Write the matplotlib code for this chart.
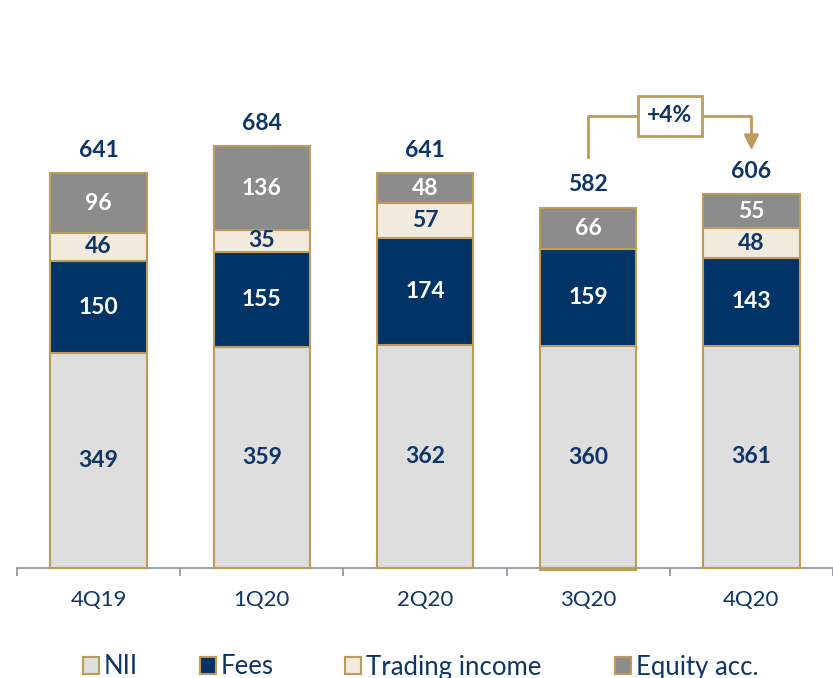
import matplotlib
matplotlib.use("Agg")
import matplotlib.pyplot as plt
from matplotlib.patches import Patch
import numpy as np

plt.rcParams['font.family'] = ['Lato', 'DejaVu Sans']

categories = ["4Q19", "1Q20", "2Q20", "3Q20", "4Q20"]
nii = [349, 359, 362, 360, 361]
fees = [150, 155, 174, 159, 143]
trading = [46, 35, 57, -3, 48]
equity = [96, 136, 48, 66, 55]
totals = [641, 684, 641, 582, 606]
growth_label = "+4%"
series_names = ["NII", "Fees", "Trading income", "Equity acc."]

c_nii = "#DEDEDE"
c_fees = "#003366"
c_trad = "#F2EADC"
c_eq = "#8C8C8C"
c_edge = "#BF9B5A"
c_text = "#0F3466"

fig = plt.figure(figsize=(8.33, 6.78), dpi=100)
# axes: left px 17 -> right px 833 ; bottom px 600 -> top px 0
ax = fig.add_axes([17/833, 78/678, 816/833, 600/678])
scale = 0.6155  # px per unit
ax.set_xlim(-0.5, (833 - 99) / 164)
ax.set_ylim(-32/scale, 568/scale)

x = np.arange(len(categories))
w = 0.59
nii_a = np.array(nii); fees_a = np.array(fees); tr_a = np.array(trading); eq_a = np.array(equity)
tr_pos = np.where(tr_a > 0, tr_a, 0)
tr_neg = np.where(tr_a < 0, tr_a, 0)

kw = dict(width=w, edgecolor=c_edge, linewidth=1.5, zorder=3)
ax.bar(x, nii_a, color=c_nii, **kw)
ax.bar(x, fees_a, bottom=nii_a, color=c_fees, **kw)
b_tr = nii_a + fees_a
ax.bar(x, tr_pos, bottom=b_tr, color=c_trad, **kw)
ax.bar(x, tr_neg, color=c_trad, **kw)
b_eq = b_tr + tr_pos
ax.bar(x, eq_a, bottom=b_eq, color=c_eq, **kw)

fs = 16.5
for i in range(len(x)):
    ax.text(x[i], nii_a[i]/2, str(nii[i]), ha='center', va='center', fontsize=fs,
            fontweight='bold', color=c_text, zorder=5)
    ax.text(x[i], nii_a[i] + fees_a[i]/2, str(fees[i]), ha='center', va='center', fontsize=fs,
            fontweight='bold', color='white', zorder=5)
    if tr_a[i] > 0:
        ax.text(x[i], b_tr[i] + tr_a[i]/2, str(trading[i]), ha='center', va='center', fontsize=fs,
                fontweight='bold', color=c_text, zorder=5)
    ax.text(x[i], b_eq[i] + eq_a[i]/2, str(equity[i]), ha='center', va='center', fontsize=fs,
            fontweight='bold', color='white', zorder=5)
    top = b_eq[i] + eq_a[i]
    ax.annotate(str(totals[i]), (x[i], top), xytext=(0, 9), textcoords='offset points',
                ha='center', va='bottom', fontsize=fs, fontweight='bold', color=c_text)

# axis
for s in ['top', 'right', 'left']:
    ax.spines[s].set_visible(False)
ax.spines['bottom'].set_position(('data', 0))
ax.spines['bottom'].set_color('#8E8E9A')
ax.spines['bottom'].set_linewidth(1.2)
ax.spines['bottom'].set_zorder(2)
ax.set_yticks([])
ax.set_xticks(np.arange(-0.5, len(categories), 1.0))
ax.set_xticklabels([])
ax.tick_params(axis='x', which='major', length=6, width=1.2, color='#8E8E9A', direction='out')
ax.set_xticks(x, minor=True)
ax.set_xticklabels(categories, minor=True, fontsize=16, color=c_text)
ax.tick_params(axis='x', which='minor', length=0, pad=16)

# growth bracket
yb = (568 - 116) / scale
y_start = (568 - 157) / scale
y_tip = (568 - 150) / scale
xm = (x[3] + x[4]) / 2
ax.plot([x[3], x[3], xm], [y_start, yb, yb], color=c_edge, lw=2, clip_on=False)
ax.annotate("", xy=(x[4], y_tip), xytext=(xm, yb),
            arrowprops=dict(arrowstyle='-|>', color=c_edge, lw=2, mutation_scale=22,
                            connectionstyle='angle,angleA=0,angleB=90,rad=0',
                            shrinkA=0, shrinkB=0))
ax.text(xm, yb, growth_label, ha='center', va='center', fontsize=16.5, fontweight='bold',
        color=c_text, zorder=6,
        bbox=dict(boxstyle='square,pad=0.4', facecolor='white', edgecolor=c_edge, lw=2))

# legend entries placed individually
legend_x_px = [90, 207, 352, 622]
fills = [c_nii, c_fees, c_trad, c_eq]
for name, fc, px in zip(series_names, fills, legend_x_px):
    h = Patch(facecolor=fc, edgecolor=c_edge, linewidth=1.5)
    lg = fig.legend([h], [name], loc='center left', bbox_to_anchor=((px - 17) / 833, 1 - 667/678),
                    frameon=False, fontsize=18.5, handlelength=0.6, handleheight=0.6,
                    handletextpad=0.2, labelcolor=c_text, borderaxespad=0, borderpad=0.4)

fig.savefig("out.png", dpi=100)
